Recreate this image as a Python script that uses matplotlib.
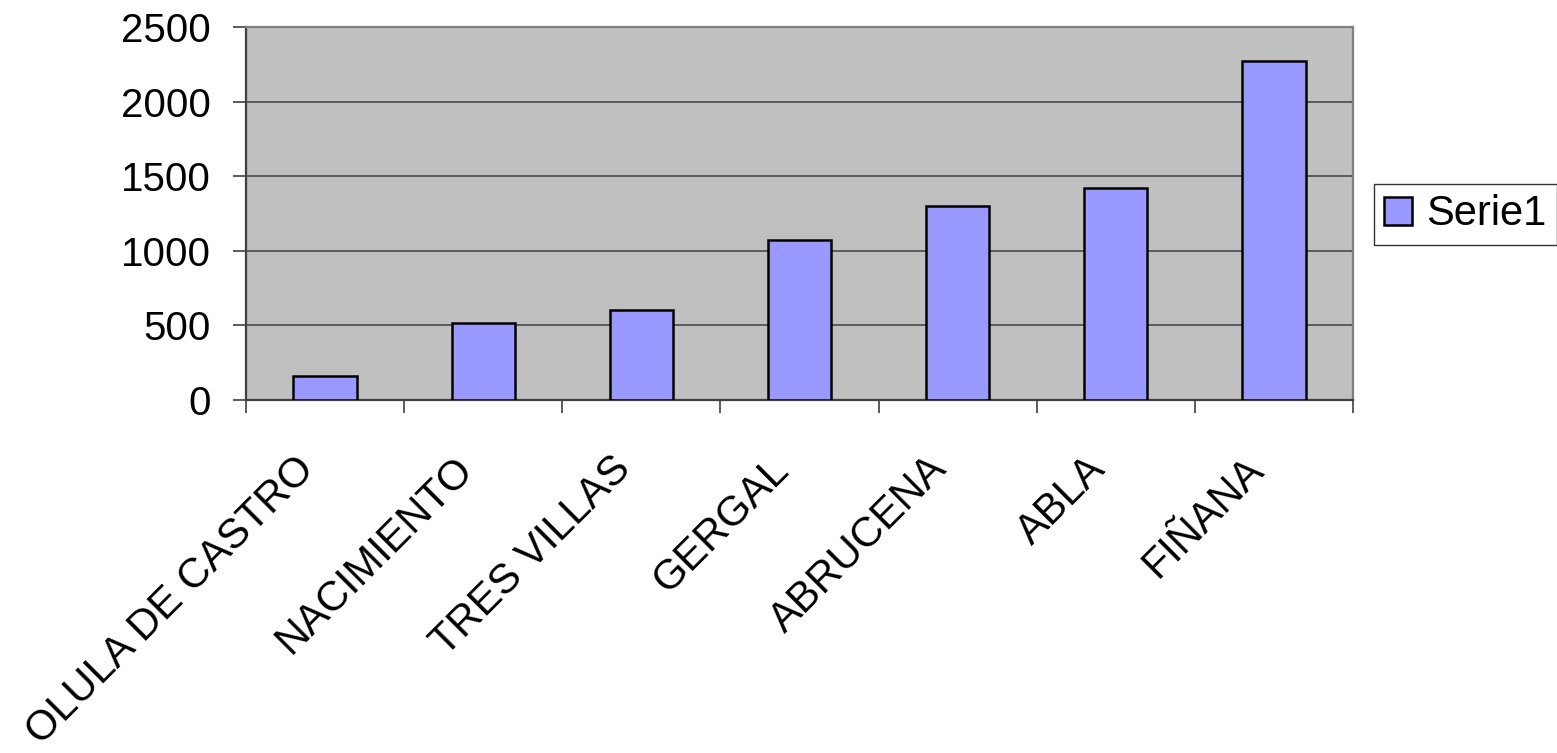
import matplotlib
matplotlib.use("Agg")
from matplotlib import pyplot as plt
from matplotlib.transforms import ScaledTranslation
import numpy as np

plt.rcParams['font.family'] = ['Liberation Sans', 'DejaVu Sans']

municipios = ['OLULA DE CASTRO', 'NACIMIENTO', 'TRES VILLAS', 'GERGAL',
              'ABRUCENA', 'ABLA', 'FIÑANA']
serie1 = [163, 514, 601, 1072, 1299, 1422, 2271]
yticks = [0, 500, 1000, 1500, 2000, 2500]

fig = plt.figure(figsize=(15.57, 7.53), dpi=100)
ax = fig.add_axes([246 / 1557, 1 - 400 / 753, 1107 / 1557, 373 / 753])
ax.set_facecolor('#C0C0C0')

x = np.arange(len(municipios))
ax.bar(x, serie1, width=0.4, color='#9999FF', edgecolor='black',
       linewidth=1.8, label='Serie1', zorder=3)

ax.set_xlim(-0.5, len(municipios) - 0.5)
ax.set_ylim(0, 2500)
ax.set_yticks(yticks)
ax.yaxis.grid(True, color='#404040', linewidth=1.1, zorder=1)
ax.set_axisbelow(True)

# ticks between categories, labels at category centres
ax.set_xticks(np.arange(len(municipios) + 1) - 0.5)
ax.set_xticklabels([])
ax.set_xticks(x, minor=True)
ax.set_xticklabels(municipios, minor=True, rotation=45, ha='right',
                   va='baseline', rotation_mode='anchor', fontsize=30)
ax.tick_params(axis='x', which='minor', length=0, pad=51)
ax.tick_params(axis='x', which='major', length=9.4, width=1.2, color='#404040')
ax.tick_params(axis='y', length=9.4, width=1.2, color='#404040', labelsize=29, pad=16)

shift = ScaledTranslation(-9 / 100, 0, fig.dpi_scale_trans)
for lab in ax.get_xticklabels(minor=True):
    lab.set_transform(lab.get_transform() + shift)

for s in ['top', 'right']:
    ax.spines[s].set_color('#808080')
    ax.spines[s].set_linewidth(1.6)
for s in ['left', 'bottom']:
    ax.spines[s].set_color('#404040')
    ax.spines[s].set_linewidth(1.6)

leg = fig.legend(loc='upper left', bbox_to_anchor=(1374 / 1557, 1 - 184 / 753),
                 fontsize=30, frameon=True, fancybox=False,
                 handlelength=0.65, handleheight=0.65, handletextpad=0.35,
                 borderpad=0.25, borderaxespad=0)
leg.get_frame().set_edgecolor('black')
leg.get_frame().set_linewidth(1)

fig.savefig('out.png', dpi=100)
